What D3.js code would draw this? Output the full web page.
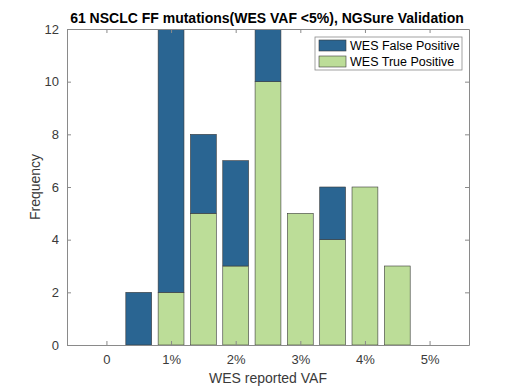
<!DOCTYPE html>
<html>
<head>
<meta charset="utf-8">
<script src="https://cdn.jsdelivr.net/npm/d3@7"></script>
<style>
  body { margin: 0; background: #fff; }
  text { font-family: "Liberation Sans", Arial, sans-serif; }
</style>
</head>
<body>
<div id="chart"></div>
<script>
// bin centres (VAF) and counts per bin
const vafBins = [0, 0.005, 0.01, 0.015, 0.02, 0.025, 0.03, 0.035, 0.04, 0.045, 0.05];
const falsePositive = [0, 2, 12, 3, 4, 4, 0, 2, 0, 0, 0];
const truePositive = [0, 0, 2, 5, 3, 10, 5, 4, 6, 3, 0];
const xTicks = [0, 0.01, 0.02, 0.03, 0.04, 0.05];
const xTickLabels = ["0", "1%", "2%", "3%", "4%", "5%"];
const yTicks = [0, 2, 4, 6, 8, 10, 12];
const seriesNames = ["WES False Positive", "WES True Positive"];
const colors = { fp: "#2a6592", tp: "#bcdd98" };

const width = 518, height = 390;
const margin = { top: 29, right: 49, bottom: 45, left: 67 };

const svg = d3.select("#chart").append("svg")
    .attr("width", width)
    .attr("height", height);

const x = d3.scaleLinear().domain([-0.0061, 0.0561]).range([margin.left, width - margin.right]);
const y = d3.scaleLinear().domain([0, 12]).range([height - margin.bottom, margin.top]);
const barW = x(0.004) - x(0);

const rows = vafBins.map((v, i) => ({ vaf: v, tp: truePositive[i], fp: falsePositive[i] }));
const stack = d3.stack().keys(["tp", "fp"])(rows);

svg.append("clipPath").attr("id", "plot-clip")
    .append("rect")
    .attr("x", margin.left).attr("y", margin.top)
    .attr("width", width - margin.left - margin.right)
    .attr("height", height - margin.top - margin.bottom);

const plot = svg.append("g").attr("clip-path", "url(#plot-clip)");

stack.forEach(layer => {
    plot.append("g")
        .selectAll("rect")
        .data(layer)
        .enter().append("rect")
        .attr("x", d => x(d.data.vaf) - barW / 2)
        .attr("y", d => y(d[1]))
        .attr("width", barW)
        .attr("height", d => y(d[0]) - y(d[1]))
        .attr("fill", colors[layer.key])
        .attr("stroke", "#3a3a3a")
        .attr("stroke-width", 0.6);
});

// axes box with inner ticks
const axisColor = "#8a8a8a";
const textColor = "#3a3a3a";

const bottomAxis = svg.append("g")
    .attr("transform", `translate(0,${height - margin.bottom})`)
    .call(d3.axisBottom(x).tickValues(xTicks).tickFormat((d, i) => xTickLabels[i]).tickSizeInner(-4).tickSizeOuter(0).tickPadding(10));
const topAxis = svg.append("g")
    .attr("transform", `translate(0,${margin.top})`)
    .call(d3.axisTop(x).tickValues(xTicks).tickFormat("").tickSizeInner(-4).tickSizeOuter(0));
const leftAxis = svg.append("g")
    .attr("transform", `translate(${margin.left},0)`)
    .call(d3.axisLeft(y).tickValues(yTicks).tickSizeInner(-4).tickSizeOuter(0).tickPadding(8));
const rightAxis = svg.append("g")
    .attr("transform", `translate(${width - margin.right},0)`)
    .call(d3.axisRight(y).tickValues(yTicks).tickFormat("").tickSizeInner(-4).tickSizeOuter(0));

[bottomAxis, topAxis, leftAxis, rightAxis].forEach(g => {
    g.select(".domain").attr("stroke", axisColor);
    g.selectAll(".tick line").attr("stroke", axisColor);
    g.selectAll(".tick text").attr("fill", textColor).style("font-size", "13px")
        .style("font-family", "Liberation Sans, Arial, sans-serif");
});

// labels
svg.append("text")
    .attr("x", (margin.left + width - margin.right) / 2 - 1)
    .attr("y", 23)
    .attr("text-anchor", "middle")
    .style("font-size", "14px")
    .style("font-weight", "bold")
    .attr("fill", "#000")
    .text("61 NSCLC FF mutations(WES VAF <5%), NGSure Validation");

svg.append("text")
    .attr("x", (margin.left + width - margin.right) / 2)
    .attr("y", 383)
    .attr("text-anchor", "middle")
    .style("font-size", "14px")
    .attr("fill", textColor)
    .text("WES reported VAF");

svg.append("text")
    .attr("transform", `translate(40,${(margin.top + height - margin.bottom) / 2}) rotate(-90)`)
    .attr("text-anchor", "middle")
    .style("font-size", "14px")
    .attr("fill", textColor)
    .text("Frequency");

// legend
const legend = svg.append("g").attr("transform", "translate(315,37)");
legend.append("rect")
    .attr("width", 147).attr("height", 33)
    .attr("fill", "#fff").attr("stroke", axisColor).attr("stroke-width", 0.8);
[colors.fp, colors.tp].forEach((c, i) => {
    const row = legend.append("g").attr("transform", `translate(4,${3 + i * 16})`);
    row.append("rect").attr("width", 27).attr("height", 11)
        .attr("fill", c).attr("stroke", "#3a3a3a").attr("stroke-width", 0.6);
    row.append("text").attr("x", 31).attr("y", 10)
        .style("font-size", "12.5px").attr("fill", "#000")
        .text(seriesNames[i]);
});
</script>
</body>
</html>
